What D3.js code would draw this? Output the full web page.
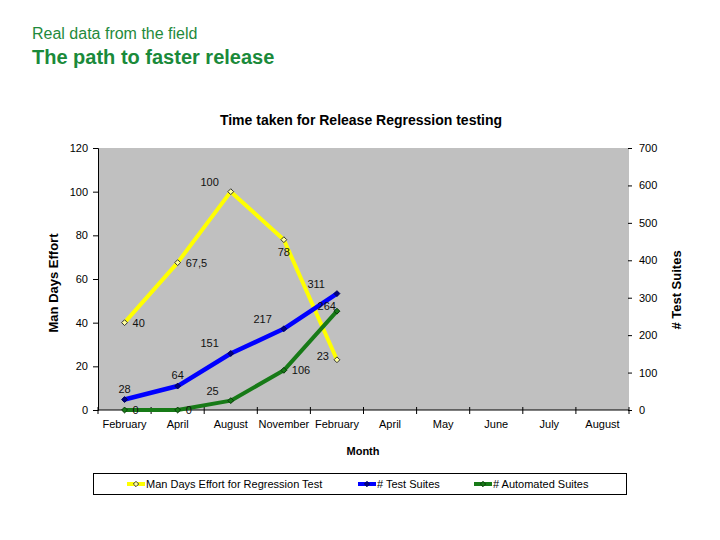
<!DOCTYPE html>
<html><head><meta charset="utf-8">
<script src="https://cdn.jsdelivr.net/npm/d3@7"></script>
<style>
body{margin:0;background:#fff;}
text{font-family:Arial,"Liberation Sans",sans-serif;}
</style></head>
<body><svg id="c" width="720" height="540"></svg>
<script>
const categories = ["February","April","August","November","February","April","May","June","July","August"];
const manDays = [40, 67.5, 100, 78, 23];
const testSuites = [28, 64, 151, 217, 311];
const automatedSuites = [0, 0, 25, 106, 264];
const manDaysLabels = ["40","67,5","100","78","23"];
const leftTicks = [0,20,40,60,80,100,120];
const rightTicks = [0,100,200,300,400,500,600,700];
// label placement keywords per point
const manDaysPos = ["r","r","al","b","l"];
const testPos = ["a","a","al","al","al"];
const autoPos = ["r","r","al","r","ul"];

const svg = d3.select("#c");
const L = 98, R = 629, T = 148, B = 410;
const x = d3.scaleBand().domain(d3.range(categories.length)).range([L,R]);
const cx = i => x(i) + x.bandwidth()/2;
const yL = d3.scaleLinear().domain([0,120]).range([B,T]);
const yR = d3.scaleLinear().domain([0,700]).range([B,T]);

// headings
svg.append("text").attr("x",32).attr("y",39).attr("fill","#1f8a3c").attr("font-size",16).text("Real data from the field");
svg.append("text").attr("x",32).attr("y",64).attr("fill","#1a8a3a").attr("font-size",20).attr("font-weight","bold").text("The path to faster release");
svg.append("text").attr("x",361).attr("y",125).attr("text-anchor","middle").attr("font-size",14).attr("font-weight","bold").text("Time taken for Release Regression testing");

// plot area
svg.append("rect").attr("x",L).attr("y",T).attr("width",R-L).attr("height",B-T).attr("fill","#c0c0c0");

// left axis
const gl = svg.append("g").attr("transform",`translate(${L},0)`)
  .call(d3.axisLeft(yL).tickValues(leftTicks).tickSize(5).tickPadding(5).tickFormat(d3.format("d")));
gl.select(".domain").attr("stroke","#000");
gl.selectAll("text").attr("font-size",11).attr("fill","#000");

// right axis
const gr = svg.append("g").attr("transform",`translate(${R},0)`)
  .call(d3.axisRight(yR).tickValues(rightTicks).tickSize(4).tickPadding(6).tickFormat(d3.format("d")));
gr.select(".domain").remove();
gr.selectAll("line").attr("transform","translate(-1,0)");
gr.selectAll("text").attr("font-size",11).attr("fill","#000");

// bottom axis
const gb = svg.append("g").attr("transform",`translate(0,${B})`);
gb.append("line").attr("x1",L).attr("x2",R).attr("stroke","#000");
const bounds = d3.range(categories.length+1).map(i => L + i*x.bandwidth());
gb.selectAll("line.t").data(bounds).join("line").attr("class","t")
  .attr("x1",d=>d).attr("x2",d=>d).attr("y1",-3).attr("y2",4).attr("stroke","#000");
gb.selectAll("text").data(categories).join("text")
  .attr("x",(d,i)=>cx(i)).attr("y",18).attr("text-anchor","middle").attr("font-size",11).text(d=>d);

// axis titles
svg.append("text").attr("transform","translate(58,283) rotate(-90)").attr("text-anchor","middle")
  .attr("font-size",13).attr("font-weight","bold").text("Man Days Effort");
svg.append("text").attr("transform","translate(681,290) rotate(-90)").attr("text-anchor","middle")
  .attr("font-size",13).attr("font-weight","bold").text("# Test Suites");
svg.append("text").attr("x",363).attr("y",455).attr("text-anchor","middle")
  .attr("font-size",11).attr("font-weight","bold").text("Month");

function series(vals, y, color, width, mfill, mstroke, labels, pos){
  const line = d3.line().x((d,i)=>cx(i)).y(d=>y(d));
  svg.append("path").datum(vals).attr("d",line).attr("fill","none")
    .attr("stroke",color).attr("stroke-width",width).attr("stroke-linejoin","round");
  svg.selectAll(null).data(vals).join("path")
    .attr("d",d3.symbol(d3.symbolDiamond2,22))
    .attr("transform",(d,i)=>`translate(${cx(i)},${y(d)})`)
    .attr("fill",mfill).attr("stroke",mstroke).attr("stroke-width",1);
  return svg.selectAll(null).data(vals).join("text")
    .attr("font-size",11).attr("fill","#111")
    .attr("x",(d,i)=>{const p=pos[i]; return cx(i)+(p==="r"?8:p==="l"?-8:p==="al"?-12:p==="ul"?-1:0);})
    .attr("y",(d,i)=>{const p=pos[i]; return y(d)+(p==="a"?-7:p==="al"?-6:p==="b"?16:p==="l"?0:p==="ul"?-1:4);})
    .attr("text-anchor",(d,i)=>{const p=pos[i]; return p==="r"?"start":(p==="l"||p==="al"||p==="ul")?"end":"middle";})
    .text((d,i)=>labels[i]);
}
series(manDays, yL, "#ffff00", 4, "#ffffa0", "#333", manDaysLabels, manDaysPos);
series(testSuites, yR, "#0000ff", 4.5, "#000080", "#000060", testSuites.map(String), testPos);
series(automatedSuites, yR, "#177a17", 4, "#177a17", "#0a3a0a", automatedSuites.map(String), autoPos);

// legend
const lg = svg.append("g");
lg.append("rect").attr("x",93.5).attr("y",473.5).attr("width",533).attr("height",21).attr("fill","#fff").attr("stroke","#000");
const items = [
  {name:"Man Days Effort for Regression Test", c:"#ffff00", f:"#ffffa0", s:"#333", x:127},
  {name:"# Test Suites", c:"#0000ff", f:"#000080", s:"#000060", x:358},
  {name:"# Automated Suites", c:"#177a17", f:"#177a17", s:"#0a3a0a", x:474}
];
items.forEach(it=>{
  lg.append("line").attr("x1",it.x).attr("x2",it.x+18).attr("y1",484).attr("y2",484).attr("stroke",it.c).attr("stroke-width",4);
  lg.append("path").attr("d",d3.symbol(d3.symbolDiamond2,18)).attr("transform",`translate(${it.x+9},484)`)
    .attr("fill",it.f).attr("stroke",it.s);
  lg.append("text").attr("x",it.x+19).attr("y",488).attr("font-size",11).text(it.name);
});
</script></body></html>
